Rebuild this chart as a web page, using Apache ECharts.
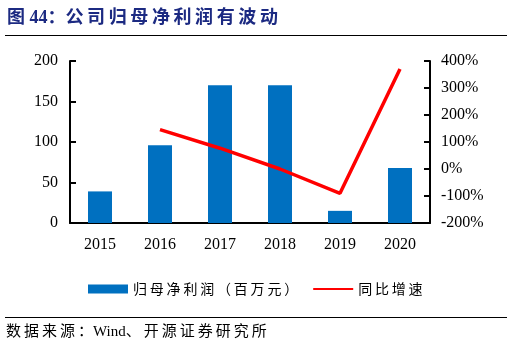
<!DOCTYPE html>
<html>
<head>
<meta charset="utf-8">
<script src="https://cdn.jsdelivr.net/npm/echarts@6/dist/echarts.min.js"></script>
<style>
  html, body { margin: 0; padding: 0; background: #fff; }
  #chart { width: 532px; height: 351px; }
</style>
</head>
<body>
<div id="chart"></div>
<script>
const years = ['2015', '2016', '2017', '2018', '2019', '2020'];
const netProfit = [39, 96, 170, 170, 15, 68];      // 归母净利润（百万元）
const growth = [null, 146, 77, 0, -90, 370];       // 同比增速 (%)

const serif = '"Liberation Serif", "Times New Roman", "Noto Sans CJK SC", serif';

// Word-style character spacing for CJK text
function spaced(s) {
    return s.split('').join('\u2009');
}

const chart = echarts.init(document.getElementById('chart'));

const option = {
    animation: false,
    graphic: [
        {
            type: 'text', left: 7, top: 9,
            style: { text: '图 44：' + spaced('公司归母净利润有波动'), font: 'bold 18px "Liberation Serif", "Noto Sans CJK SC", serif', fill: '#1C2A82' }
        },
        { type: 'line', shape: { x1: 5, y1: 35.5, x2: 507, y2: 35.5 }, style: { stroke: '#000', lineWidth: 1 } },
        { type: 'line', shape: { x1: 5, y1: 317.5, x2: 507, y2: 317.5 }, style: { stroke: '#000', lineWidth: 1 } },
        {
            type: 'text', left: 6, top: 325,
            style: { text: spaced('数据来源：') + 'Wind' + spaced('、开源证券研究所'), font: '15px "Liberation Serif", "Noto Sans CJK SC", serif', fill: '#000' }
        }
    ],
    legend: {
        top: 277,
        left: 83,
        itemGap: 14,
        itemWidth: 40,
        itemHeight: 9,
        textStyle: { fontFamily: '"Noto Sans CJK SC", serif', fontSize: 14, color: '#000' },
        formatter: function (name) { return spaced(name); },
        data: [
            { name: '归母净利润（百万元）', icon: 'rect' },
            { name: '同比增速', itemStyle: { opacity: 0 } }
        ]
    },
    grid: { left: 70, right: 102, top: 61, bottom: 128 },
    xAxis: {
        type: 'category',
        data: years,
        axisLine: { lineStyle: { color: '#000', width: 2 } },
        axisTick: { inside: true, length: 6, lineStyle: { color: '#000', width: 2 } },
        axisLabel: { color: '#000', fontFamily: serif, fontSize: 16, margin: 14 }
    },
    yAxis: [
        {
            type: 'value', min: 0, max: 200, interval: 50,
            axisLine: { show: true, lineStyle: { color: '#000', width: 2 } },
            axisTick: { show: true, inside: true, length: 6, lineStyle: { color: '#000', width: 2 } },
            axisLabel: { color: '#000', fontFamily: serif, fontSize: 16, margin: 12 },
            splitLine: { show: false }
        },
        {
            type: 'value', min: -200, max: 400, interval: 100,
            axisLine: { show: true, lineStyle: { color: '#000', width: 2 } },
            axisTick: { show: true, inside: true, length: 6, lineStyle: { color: '#000', width: 2 } },
            axisLabel: { color: '#000', fontFamily: serif, fontSize: 16, margin: 11, formatter: '{value}%' },
            splitLine: { show: false }
        }
    ],
    series: [
        {
            name: '归母净利润（百万元）',
            type: 'bar',
            data: netProfit,
            barWidth: 24,
            itemStyle: { color: '#0070C0' }
        },
        {
            name: '同比增速',
            type: 'line',
            yAxisIndex: 1,
            data: growth,
            symbol: 'none',
            lineStyle: { color: '#FF0000', width: 3.5 },
            itemStyle: { color: '#FF0000' }
        }
    ]
};

chart.setOption(option);
</script>
</body>
</html>
